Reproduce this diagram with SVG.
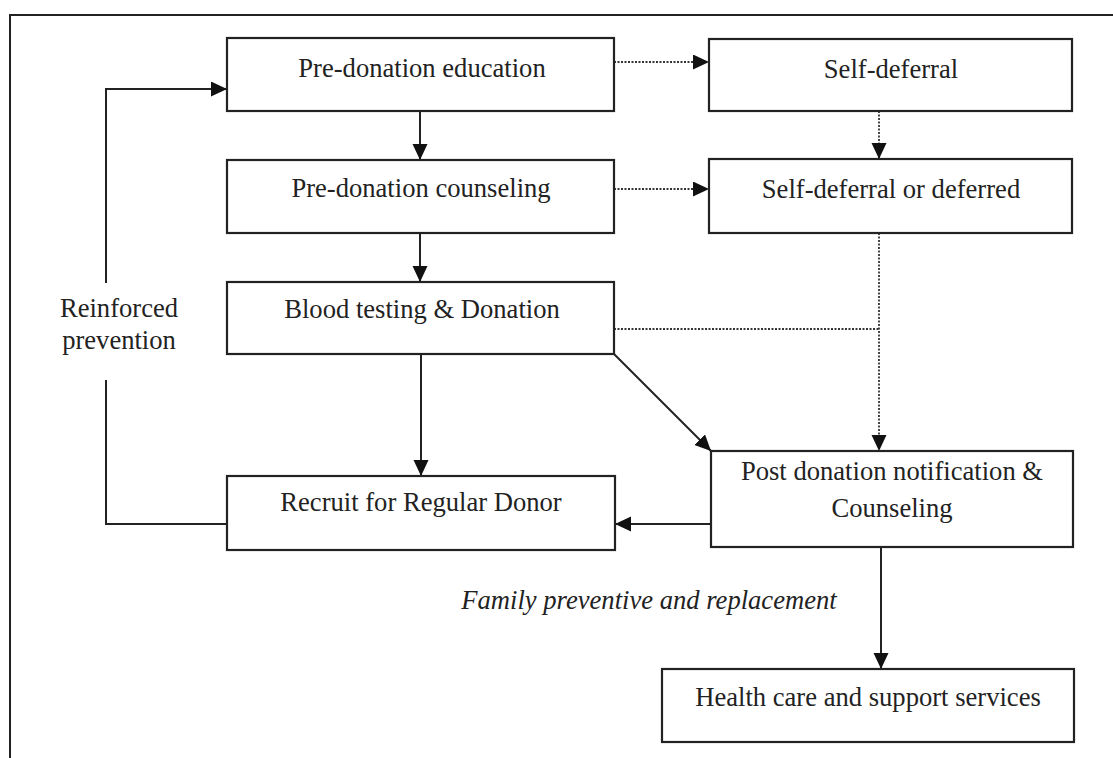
<svg xmlns="http://www.w3.org/2000/svg" width="1113" height="758" viewBox="0 0 1113 758">
<defs>
<style>
.box{fill:#fff;stroke:#222;stroke-width:2.2}
.t{font-family:"Liberation Serif","Times New Roman",serif;font-size:26.6px;fill:#222;text-anchor:middle}
.it{font-style:italic}
.c{fill:none;stroke:#222;stroke-width:2}
.d{fill:none;stroke:#333;stroke-width:1.8;stroke-dasharray:2 1.5}
</style>
<marker id="ah" markerUnits="userSpaceOnUse" markerWidth="17" markerHeight="16" refX="16" refY="7.5" orient="auto">
<path d="M0,0 L16,7.5 L0,15 z" fill="#111"/>
</marker>
</defs>
<rect width="1113" height="758" fill="#fff"/>
<path d="M10,758 V15 H1113" fill="none" stroke="#222" stroke-width="2"/>

<g id="connectors">
<line class="d" x1="614" y1="62" x2="709" y2="62" marker-end="url(#ah)"/>
<line class="d" x1="614" y1="189" x2="709" y2="189" marker-end="url(#ah)"/>
<line class="d" x1="879" y1="111" x2="879" y2="159" marker-end="url(#ah)"/>
<line class="d" x1="614" y1="329" x2="879" y2="329"/>
<line class="d" x1="879" y1="233" x2="879" y2="451" marker-end="url(#ah)"/>
<line class="c" x1="420" y1="111" x2="420" y2="160" marker-end="url(#ah)"/>
<line class="c" x1="420" y1="233" x2="420" y2="282" marker-end="url(#ah)"/>
<line class="c" x1="421" y1="354" x2="421" y2="476" marker-end="url(#ah)"/>
<line class="c" x1="614" y1="354" x2="711" y2="451" marker-end="url(#ah)"/>
<line class="c" x1="711" y1="524" x2="615" y2="524" marker-end="url(#ah)"/>
<line class="c" x1="881" y1="547" x2="881" y2="669" marker-end="url(#ah)"/>
<path class="c" d="M227,524 H106 V380"/>
<path class="c" d="M106,283 V89 H227" marker-end="url(#ah)"/>
</g>

<g id="n-education"><rect class="box" x="227" y="38" width="387" height="73"/><text class="t" x="422" y="77">Pre-donation education</text></g>
<g id="n-selfdeferral"><rect class="box" x="709" y="39" width="363" height="72"/><text class="t" x="891" y="78">Self-deferral</text></g>
<g id="n-counseling"><rect class="box" x="227" y="160" width="387" height="73"/><text class="t" x="421" y="197">Pre-donation counseling</text></g>
<g id="n-deferred"><rect class="box" x="709" y="159" width="363" height="74"/><text class="t" x="891" y="198">Self-deferral or deferred</text></g>
<g id="n-testing"><rect class="box" x="227" y="282" width="387" height="72"/><text class="t" x="422" y="318">Blood testing &amp; Donation</text></g>
<g id="n-recruit"><rect class="box" x="227" y="476" width="388" height="74"/><text class="t" x="421" y="511">Recruit for Regular Donor</text></g>
<g id="n-post"><rect class="box" x="711" y="451" width="362" height="96"/><text class="t" x="892" y="480">Post donation notification &amp;</text><text class="t" x="892" y="517">Counseling</text></g>
<g id="n-health"><rect class="box" x="662" y="669" width="412" height="73"/><text class="t" x="868" y="706">Health care and support services</text></g>

<g id="labels">
<text class="t" x="119" y="317">Reinforced</text>
<text class="t" x="119" y="349">prevention</text>
<text class="t it" x="649" y="609">Family preventive and replacement</text>
</g>
</svg>
